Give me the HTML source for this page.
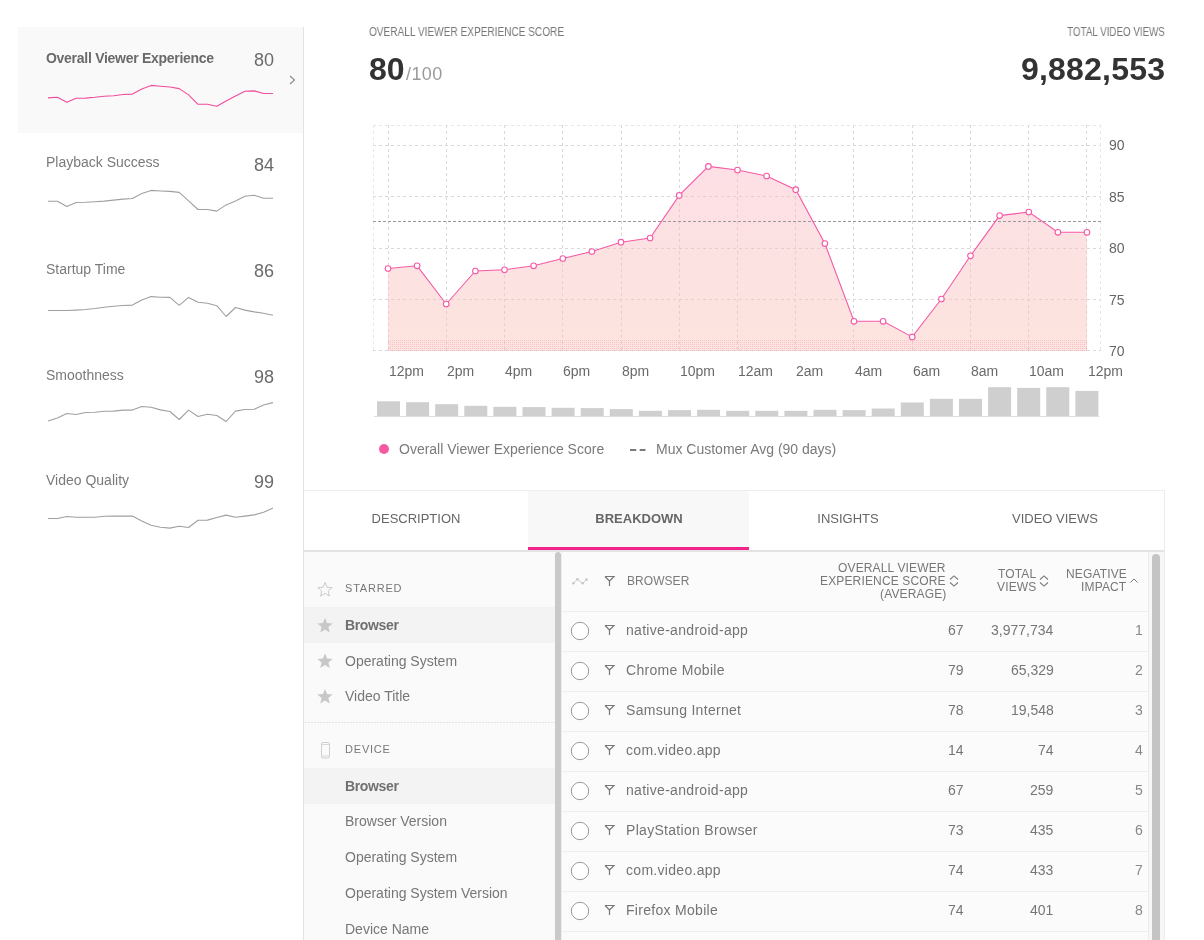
<!DOCTYPE html><html><head><meta charset="utf-8"><style>
html,body{margin:0;padding:0;background:#fff;width:1204px;height:940px;overflow:hidden;position:relative;font-family:"Liberation Sans", sans-serif;}
.t{position:absolute;line-height:1;white-space:nowrap;will-change:transform;}
.abs{position:absolute;}
svg{position:absolute;left:0;top:0;overflow:visible}
</style></head><body>
<div class="abs" style="left:18px;top:27px;width:285px;height:106px;background:#f9f9f9"></div>
<div class="abs" style="left:303px;top:27px;width:1px;height:913px;background:#e3e3e3"></div>
<div class="t" style="left:46.00px;top:51.05px;font-size:14px;color:#6a6a6a;font-weight:bold;letter-spacing:-0.28px">Overall Viewer Experience</div>
<div class="t" style="right:929.50px;top:50.56px;font-size:18px;color:#6a6a6a;font-weight:normal;">80</div>
<div class="t" style="left:46.00px;top:155.45px;font-size:14px;color:#7a7a7a;font-weight:normal;">Playback Success</div>
<div class="t" style="right:929.50px;top:156.26px;font-size:18px;color:#6a6a6a;font-weight:normal;">84</div>
<div class="t" style="left:46.00px;top:261.65px;font-size:14px;color:#7a7a7a;font-weight:normal;">Startup Time</div>
<div class="t" style="right:929.50px;top:262.16px;font-size:18px;color:#6a6a6a;font-weight:normal;">86</div>
<div class="t" style="left:46.00px;top:367.75px;font-size:14px;color:#7a7a7a;font-weight:normal;">Smoothness</div>
<div class="t" style="right:929.50px;top:367.56px;font-size:18px;color:#6a6a6a;font-weight:normal;">98</div>
<div class="t" style="left:46.00px;top:473.15px;font-size:14px;color:#7a7a7a;font-weight:normal;">Video Quality</div>
<div class="t" style="right:929.50px;top:472.96px;font-size:18px;color:#6a6a6a;font-weight:normal;">99</div>
<svg width="1204" height="940" style="pointer-events:none"><polyline points="290,76 294.5,80 290,84" fill="none" stroke="#888" stroke-width="1.1"/><polyline points="48.0,97.9 57.4,97.3 66.8,102.3 76.1,98.3 85.5,98.1 94.9,97.3 104.2,96.3 113.6,95.7 123.0,94.5 132.4,94.1 141.8,89.0 151.1,85.4 160.5,86.2 169.9,87.0 179.2,88.6 188.6,94.9 198.0,104.3 207.4,104.3 216.8,106.3 226.1,100.9 235.5,95.9 244.9,91.3 254.2,90.9 263.6,93.5 273.0,93.5" fill="none" stroke="#f24c9c" stroke-width="1.1" stroke-linejoin="round"/><polyline points="48.0,201.3 57.4,201.3 66.8,206.5 76.1,202.5 85.5,202.3 94.9,201.7 104.2,201.1 113.6,200.1 123.0,199.1 132.4,198.5 141.8,193.6 151.1,190.4 160.5,191.0 169.9,191.4 179.2,192.4 188.6,200.9 198.0,209.5 207.4,209.5 216.8,211.1 226.1,204.9 235.5,200.9 244.9,196.3 254.2,195.3 263.6,198.3 273.0,198.3" fill="none" stroke="#a0a0a0" stroke-width="1.1" stroke-linejoin="round"/><polyline points="48.0,310.5 57.4,310.5 66.8,310.5 76.1,310.1 85.5,309.5 94.9,308.5 104.2,307.3 113.6,306.3 123.0,305.5 132.4,305.1 141.8,300.0 151.1,296.6 160.5,297.2 169.9,297.4 179.2,305.3 188.6,297.4 198.0,302.3 207.4,303.3 216.8,305.7 226.1,316.5 235.5,307.5 244.9,310.1 254.2,311.9 263.6,313.3 273.0,315.3" fill="none" stroke="#a0a0a0" stroke-width="1.1" stroke-linejoin="round"/><polyline points="48.0,420.9 57.4,417.9 66.8,413.5 76.1,414.5 85.5,412.5 94.9,412.3 104.2,411.3 113.6,411.1 123.0,410.1 132.4,410.1 141.8,406.5 151.1,407.3 160.5,409.9 169.9,411.5 179.2,419.5 188.6,410.1 198.0,416.5 207.4,414.3 216.8,415.5 226.1,421.5 235.5,411.1 244.9,409.5 254.2,409.3 263.6,405.0 273.0,402.6" fill="none" stroke="#a0a0a0" stroke-width="1.1" stroke-linejoin="round"/><polyline points="48.0,518.5 57.4,518.5 66.8,516.5 76.1,517.3 85.5,517.3 94.9,517.3 104.2,516.3 113.6,516.1 123.0,516.1 132.4,516.1 141.8,520.9 151.1,525.3 160.5,527.3 169.9,528.1 179.2,526.3 188.6,527.5 198.0,520.3 207.4,520.1 216.8,517.5 226.1,515.1 235.5,517.3 244.9,516.1 254.2,514.9 263.6,512.3 273.0,508.0" fill="none" stroke="#a0a0a0" stroke-width="1.1" stroke-linejoin="round"/></svg>
<div class="t" style="left:369.00px;top:26.04px;font-size:12px;color:#777;font-weight:normal;transform-origin:0 0;transform:scaleX(0.84)">OVERALL VIEWER EXPERIENCE SCORE</div>
<div class="t" style="left:368.50px;top:53.31px;font-size:32px;color:#333;font-weight:bold;">80</div>
<div class="t" style="left:405.50px;top:64.96px;font-size:18px;color:#9a9a9a;font-weight:normal;letter-spacing:0.4px">/100</div>
<div class="t" style="right:39.00px;top:25.74px;font-size:12px;color:#777;font-weight:normal;transform-origin:100% 0;transform:scaleX(0.815)">TOTAL VIDEO VIEWS</div>
<div class="t" style="right:39.00px;top:52.91px;font-size:32px;color:#333;font-weight:bold;letter-spacing:0.2px">9,882,553</div>
<svg width="1204" height="940"><defs><linearGradient id="g" x1="0" y1="166" x2="0" y2="351" gradientUnits="userSpaceOnUse"><stop offset="0" stop-color="rgb(250,186,199)" stop-opacity="0.45"/><stop offset="1" stop-color="rgb(250,195,182)" stop-opacity="0.45"/></linearGradient>
<pattern id="dots" x="0" y="0" width="2" height="2" patternUnits="userSpaceOnUse"><rect x="0" y="0" width="1" height="1" fill="rgba(240,110,160,0.28)"/></pattern></defs><g stroke="#d9d9d9" stroke-width="1" stroke-dasharray="3,3" fill="none"><line x1="388.5" y1="125" x2="388.5" y2="351"/><line x1="446.5" y1="125" x2="446.5" y2="351"/><line x1="504.5" y1="125" x2="504.5" y2="351"/><line x1="562.5" y1="125" x2="562.5" y2="351"/><line x1="621.5" y1="125" x2="621.5" y2="351"/><line x1="679.5" y1="125" x2="679.5" y2="351"/><line x1="737.5" y1="125" x2="737.5" y2="351"/><line x1="795.5" y1="125" x2="795.5" y2="351"/><line x1="853.5" y1="125" x2="853.5" y2="351"/><line x1="912.5" y1="125" x2="912.5" y2="351"/><line x1="970.5" y1="125" x2="970.5" y2="351"/><line x1="1028.5" y1="125" x2="1028.5" y2="351"/><line x1="1086.5" y1="125" x2="1086.5" y2="351"/><line x1="373" y1="145.5" x2="1101" y2="145.5"/><line x1="373" y1="196.5" x2="1101" y2="196.5"/><line x1="373" y1="248.5" x2="1101" y2="248.5"/><line x1="373" y1="299.5" x2="1101" y2="299.5"/><line x1="373" y1="350.5" x2="1101" y2="350.5"/><line x1="373.5" y1="125" x2="373.5" y2="351" stroke="#e6e6e6"/><line x1="1100.5" y1="125" x2="1100.5" y2="351" stroke="#e6e6e6"/><line x1="373" y1="125.5" x2="1101" y2="125.5" stroke="#e6e6e6"/></g><polygon points="388.0,351 388.0,268.5 417.1,265.8 446.2,304.0 475.4,271.0 504.5,269.8 533.6,265.8 562.8,258.5 591.9,251.5 621.0,242.2 650.1,238.0 679.2,195.4 708.4,166.4 737.5,170.0 766.6,176.0 795.8,189.7 824.9,243.6 854.0,321.3 883.1,321.3 912.2,336.9 941.4,299.0 970.5,255.8 999.6,215.6 1028.8,212.0 1057.9,232.3 1087.0,232.3 1087.0,351" fill="url(#g)"/><rect x="388" y="339" width="699" height="12" fill="url(#dots)"/><line x1="373" y1="221.5" x2="1101" y2="221.5" stroke="#9a9a9a" stroke-width="1" stroke-dasharray="3,2"/><polyline points="388.0,268.5 417.1,265.8 446.2,304.0 475.4,271.0 504.5,269.8 533.6,265.8 562.8,258.5 591.9,251.5 621.0,242.2 650.1,238.0 679.2,195.4 708.4,166.4 737.5,170.0 766.6,176.0 795.8,189.7 824.9,243.6 854.0,321.3 883.1,321.3 912.2,336.9 941.4,299.0 970.5,255.8 999.6,215.6 1028.8,212.0 1057.9,232.3 1087.0,232.3" fill="none" stroke="#f55aa6" stroke-width="1.1"/><g fill="#fff" stroke="#f55aa6" stroke-width="1.1"><circle cx="388.0" cy="268.5" r="2.8"/><circle cx="417.1" cy="265.8" r="2.8"/><circle cx="446.2" cy="304.0" r="2.8"/><circle cx="475.4" cy="271.0" r="2.8"/><circle cx="504.5" cy="269.8" r="2.8"/><circle cx="533.6" cy="265.8" r="2.8"/><circle cx="562.8" cy="258.5" r="2.8"/><circle cx="591.9" cy="251.5" r="2.8"/><circle cx="621.0" cy="242.2" r="2.8"/><circle cx="650.1" cy="238.0" r="2.8"/><circle cx="679.2" cy="195.4" r="2.8"/><circle cx="708.4" cy="166.4" r="2.8"/><circle cx="737.5" cy="170.0" r="2.8"/><circle cx="766.6" cy="176.0" r="2.8"/><circle cx="795.8" cy="189.7" r="2.8"/><circle cx="824.9" cy="243.6" r="2.8"/><circle cx="854.0" cy="321.3" r="2.8"/><circle cx="883.1" cy="321.3" r="2.8"/><circle cx="912.2" cy="336.9" r="2.8"/><circle cx="941.4" cy="299.0" r="2.8"/><circle cx="970.5" cy="255.8" r="2.8"/><circle cx="999.6" cy="215.6" r="2.8"/><circle cx="1028.8" cy="212.0" r="2.8"/><circle cx="1057.9" cy="232.3" r="2.8"/><circle cx="1087.0" cy="232.3" r="2.8"/></g><g fill="#cfcfcf"><rect x="377.00" y="401.3" width="23" height="14.7"/><rect x="406.10" y="402.2" width="23" height="13.8"/><rect x="435.20" y="404.2" width="23" height="11.8"/><rect x="464.30" y="405.8" width="23" height="10.2"/><rect x="493.40" y="406.8" width="23" height="9.2"/><rect x="522.50" y="407.1" width="23" height="8.9"/><rect x="551.60" y="407.8" width="23" height="8.2"/><rect x="580.70" y="408.1" width="23" height="7.9"/><rect x="609.80" y="409.1" width="23" height="6.9"/><rect x="638.90" y="410.8" width="23" height="5.2"/><rect x="668.00" y="410.1" width="23" height="5.9"/><rect x="697.10" y="409.8" width="23" height="6.2"/><rect x="726.20" y="410.8" width="23" height="5.2"/><rect x="755.30" y="410.8" width="23" height="5.2"/><rect x="784.40" y="410.8" width="23" height="5.2"/><rect x="813.50" y="409.8" width="23" height="6.2"/><rect x="842.60" y="410.1" width="23" height="5.9"/><rect x="871.70" y="408.5" width="23" height="7.5"/><rect x="900.80" y="402.5" width="23" height="13.5"/><rect x="929.90" y="398.8" width="23" height="17.2"/><rect x="959.00" y="398.8" width="23" height="17.2"/><rect x="988.10" y="387.2" width="23" height="28.8"/><rect x="1017.20" y="387.9" width="23" height="28.1"/><rect x="1046.30" y="387.2" width="23" height="28.8"/><rect x="1075.40" y="390.9" width="23" height="25.1"/></g><rect x="374" y="416" width="725.5" height="1" fill="#dedede"/><circle cx="384" cy="449" r="5" fill="#f75aa3"/><line x1="630" y1="450" x2="645.5" y2="450" stroke="#7a7a7a" stroke-width="2" stroke-dasharray="6.2,3.5"/></svg>
<div class="t" style="left:1108.80px;top:138.35px;font-size:14px;color:#666;font-weight:normal;">90</div>
<div class="t" style="left:1108.80px;top:189.85px;font-size:14px;color:#666;font-weight:normal;">85</div>
<div class="t" style="left:1108.80px;top:241.35px;font-size:14px;color:#666;font-weight:normal;">80</div>
<div class="t" style="left:1108.80px;top:292.85px;font-size:14px;color:#666;font-weight:normal;">75</div>
<div class="t" style="left:1108.80px;top:344.35px;font-size:14px;color:#666;font-weight:normal;">70</div>
<div class="t" style="left:388.50px;top:363.75px;font-size:14px;color:#6a6a6a;font-weight:normal;">12pm</div>
<div class="t" style="left:446.75px;top:363.75px;font-size:14px;color:#6a6a6a;font-weight:normal;">2pm</div>
<div class="t" style="left:505.00px;top:363.75px;font-size:14px;color:#6a6a6a;font-weight:normal;">4pm</div>
<div class="t" style="left:563.25px;top:363.75px;font-size:14px;color:#6a6a6a;font-weight:normal;">6pm</div>
<div class="t" style="left:621.50px;top:363.75px;font-size:14px;color:#6a6a6a;font-weight:normal;">8pm</div>
<div class="t" style="left:679.75px;top:363.75px;font-size:14px;color:#6a6a6a;font-weight:normal;">10pm</div>
<div class="t" style="left:738.00px;top:363.75px;font-size:14px;color:#6a6a6a;font-weight:normal;">12am</div>
<div class="t" style="left:796.25px;top:363.75px;font-size:14px;color:#6a6a6a;font-weight:normal;">2am</div>
<div class="t" style="left:854.50px;top:363.75px;font-size:14px;color:#6a6a6a;font-weight:normal;">4am</div>
<div class="t" style="left:912.75px;top:363.75px;font-size:14px;color:#6a6a6a;font-weight:normal;">6am</div>
<div class="t" style="left:971.00px;top:363.75px;font-size:14px;color:#6a6a6a;font-weight:normal;">8am</div>
<div class="t" style="left:1029.25px;top:363.75px;font-size:14px;color:#6a6a6a;font-weight:normal;">10am</div>
<div class="t" style="left:1087.50px;top:363.75px;font-size:14px;color:#6a6a6a;font-weight:normal;">12pm</div>
<div class="t" style="left:399.00px;top:442.15px;font-size:14px;color:#7a7a7a;font-weight:normal;">Overall Viewer Experience Score</div>
<div class="t" style="left:656.00px;top:442.15px;font-size:14px;color:#7a7a7a;font-weight:normal;">Mux Customer Avg (90 days)</div>
<div class="abs" style="left:304px;top:490px;width:861px;height:1px;background:#eeeeee"></div>
<div class="abs" style="left:1164px;top:490px;width:1px;height:450px;background:#ececec"></div>
<div class="abs" style="left:528px;top:491px;width:221px;height:59px;background:#f8f8f8"></div>
<div class="abs" style="left:304px;top:550px;width:860px;height:2px;background:#e3e3e3"></div>
<div class="abs" style="left:528px;top:547px;width:221px;height:3px;background:#f2238a"></div>
<div class="t" style="left:416.00px;transform:translateX(-50%);top:512.20px;font-size:13px;color:#666;font-weight:normal;">DESCRIPTION</div>
<div class="t" style="left:638.50px;transform:translateX(-50%);top:512.20px;font-size:13px;color:#666;font-weight:bold;">BREAKDOWN</div>
<div class="t" style="left:847.50px;transform:translateX(-50%);top:512.20px;font-size:13px;color:#666;font-weight:normal;">INSIGHTS</div>
<div class="t" style="left:1055.00px;transform:translateX(-50%);top:512.20px;font-size:13px;color:#666;font-weight:normal;">VIDEO VIEWS</div>
<div class="abs" style="left:304px;top:552px;width:251px;height:388px;background:#fafafa"></div>
<div class="abs" style="left:304px;top:607px;width:251px;height:36px;background:#f3f3f3"></div>
<div class="abs" style="left:304px;top:768px;width:251px;height:36px;background:#f3f3f3"></div>
<div class="abs" style="left:305px;top:722px;width:250px;height:1px;background:repeating-linear-gradient(90deg,#e2e2e2 0 2px,transparent 2px 3px)"></div>
<div class="abs" style="left:555px;top:552px;width:6px;height:400px;background:#c9c9c9;border-radius:3px 3px 0 0"></div>
<div class="t" style="left:345.00px;top:583.49px;font-size:11px;color:#777;font-weight:normal;letter-spacing:0.8px">STARRED</div>
<div class="t" style="left:345.00px;top:618.35px;font-size:14px;color:#707070;font-weight:bold;letter-spacing:-0.35px">Browser</div>
<div class="t" style="left:345.00px;top:653.65px;font-size:14px;color:#777;font-weight:normal;">Operating System</div>
<div class="t" style="left:345.00px;top:689.15px;font-size:14px;color:#777;font-weight:normal;">Video Title</div>
<div class="t" style="left:345.00px;top:744.09px;font-size:11px;color:#777;font-weight:normal;letter-spacing:0.8px">DEVICE</div>
<div class="t" style="left:345.00px;top:779.15px;font-size:14px;color:#707070;font-weight:bold;letter-spacing:-0.35px">Browser</div>
<div class="t" style="left:345.00px;top:814.15px;font-size:14px;color:#777;font-weight:normal;">Browser Version</div>
<div class="t" style="left:345.00px;top:850.15px;font-size:14px;color:#777;font-weight:normal;">Operating System</div>
<div class="t" style="left:345.00px;top:886.15px;font-size:14px;color:#777;font-weight:normal;">Operating System Version</div>
<div class="t" style="left:345.00px;top:922.15px;font-size:14px;color:#777;font-weight:normal;">Device Name</div>
<svg width="1204" height="940"><polygon points="325.00,582.50 326.98,587.27 332.13,587.68 328.21,591.04 329.41,596.07 325.00,593.38 320.59,596.07 321.79,591.04 317.87,587.68 323.02,587.27" fill="none" stroke="#c6c6c6" stroke-width="0.9"/><polygon points="325.00,618.00 327.12,623.09 332.61,623.53 328.42,627.11 329.70,632.47 325.00,629.60 320.30,632.47 321.58,627.11 317.39,623.53 322.88,623.09" fill="#c8c8c8" stroke="none" stroke-width="0.9"/><polygon points="325.00,653.50 327.12,658.59 332.61,659.03 328.42,662.61 329.70,667.97 325.00,665.10 320.30,667.97 321.58,662.61 317.39,659.03 322.88,658.59" fill="#c8c8c8" stroke="none" stroke-width="0.9"/><polygon points="325.00,689.00 327.12,694.09 332.61,694.53 328.42,698.11 329.70,703.47 325.00,700.60 320.30,703.47 321.58,698.11 317.39,694.53 322.88,694.09" fill="#c8c8c8" stroke="none" stroke-width="0.9"/><rect x="321.5" y="742.5" width="8" height="15.5" rx="1.5" fill="none" stroke="#cfcfcf" stroke-width="1"/><path d="M322,744.5 h7 M322,756 h7" stroke="#d8d8d8" stroke-width="1"/></svg>
<div class="abs" style="left:561px;top:552px;width:587px;height:388px;background:#fbfbfb;border-left:1px solid #eeeeee"></div>
<div class="abs" style="left:1148px;top:552px;width:15px;height:388px;background:#f7f7f7;border-left:1px solid #ececec;border-right:1px solid #ececec"></div>
<div class="abs" style="left:1152px;top:554px;width:8px;height:400px;background:#c4c4c4;border-radius:4px 4px 0 0"></div>
<div class="abs" style="left:562px;top:611px;width:586px;height:1px;background:#efefef"></div>
<div class="abs" style="left:562px;top:651px;width:586px;height:1px;background:#efefef"></div>
<div class="abs" style="left:562px;top:691px;width:586px;height:1px;background:#efefef"></div>
<div class="abs" style="left:562px;top:731px;width:586px;height:1px;background:#efefef"></div>
<div class="abs" style="left:562px;top:771px;width:586px;height:1px;background:#efefef"></div>
<div class="abs" style="left:562px;top:811px;width:586px;height:1px;background:#efefef"></div>
<div class="abs" style="left:562px;top:851px;width:586px;height:1px;background:#efefef"></div>
<div class="abs" style="left:562px;top:891px;width:586px;height:1px;background:#efefef"></div>
<div class="abs" style="left:562px;top:931px;width:586px;height:1px;background:#efefef"></div>
<div class="t" style="left:627.00px;top:574.84px;font-size:12px;color:#7a7a7a;font-weight:normal;letter-spacing:0.05px">BROWSER</div>
<div class="t" style="right:258.00px;top:562.14px;font-size:12px;color:#777;font-weight:normal;letter-spacing:0.15px">OVERALL VIEWER</div>
<div class="t" style="right:258.00px;top:575.14px;font-size:12px;color:#777;font-weight:normal;letter-spacing:0.15px">EXPERIENCE SCORE</div>
<div class="t" style="right:258.00px;top:588.14px;font-size:12px;color:#777;font-weight:normal;letter-spacing:0.15px">(AVERAGE)</div>
<div class="t" style="right:167.50px;top:568.24px;font-size:12px;color:#777;font-weight:normal;letter-spacing:0.15px">TOTAL</div>
<div class="t" style="right:167.50px;top:581.44px;font-size:12px;color:#777;font-weight:normal;letter-spacing:0.15px">VIEWS</div>
<div class="t" style="right:77.50px;top:568.24px;font-size:12px;color:#777;font-weight:normal;letter-spacing:0.15px">NEGATIVE</div>
<div class="t" style="right:77.50px;top:581.44px;font-size:12px;color:#777;font-weight:normal;letter-spacing:0.15px">IMPACT</div>
<div class="t" style="left:626.20px;top:623.45px;font-size:14px;color:#747474;font-weight:normal;letter-spacing:0.3px">native-android-app</div>
<div class="t" style="right:240.50px;top:623.45px;font-size:14px;color:#767676;font-weight:normal;">67</div>
<div class="t" style="right:150.50px;top:623.45px;font-size:14px;color:#767676;font-weight:normal;">3,977,734</div>
<div class="t" style="right:61.00px;top:623.45px;font-size:14px;color:#888;font-weight:normal;">1</div>
<div class="t" style="left:626.20px;top:663.45px;font-size:14px;color:#747474;font-weight:normal;letter-spacing:0.3px">Chrome Mobile</div>
<div class="t" style="right:240.50px;top:663.45px;font-size:14px;color:#767676;font-weight:normal;">79</div>
<div class="t" style="right:150.50px;top:663.45px;font-size:14px;color:#767676;font-weight:normal;">65,329</div>
<div class="t" style="right:61.00px;top:663.45px;font-size:14px;color:#888;font-weight:normal;">2</div>
<div class="t" style="left:626.20px;top:703.45px;font-size:14px;color:#747474;font-weight:normal;letter-spacing:0.3px">Samsung Internet</div>
<div class="t" style="right:240.50px;top:703.45px;font-size:14px;color:#767676;font-weight:normal;">78</div>
<div class="t" style="right:150.50px;top:703.45px;font-size:14px;color:#767676;font-weight:normal;">19,548</div>
<div class="t" style="right:61.00px;top:703.45px;font-size:14px;color:#888;font-weight:normal;">3</div>
<div class="t" style="left:626.20px;top:743.45px;font-size:14px;color:#747474;font-weight:normal;letter-spacing:0.3px">com.video.app</div>
<div class="t" style="right:240.50px;top:743.45px;font-size:14px;color:#767676;font-weight:normal;">14</div>
<div class="t" style="right:150.50px;top:743.45px;font-size:14px;color:#767676;font-weight:normal;">74</div>
<div class="t" style="right:61.00px;top:743.45px;font-size:14px;color:#888;font-weight:normal;">4</div>
<div class="t" style="left:626.20px;top:783.45px;font-size:14px;color:#747474;font-weight:normal;letter-spacing:0.3px">native-android-app</div>
<div class="t" style="right:240.50px;top:783.45px;font-size:14px;color:#767676;font-weight:normal;">67</div>
<div class="t" style="right:150.50px;top:783.45px;font-size:14px;color:#767676;font-weight:normal;">259</div>
<div class="t" style="right:61.00px;top:783.45px;font-size:14px;color:#888;font-weight:normal;">5</div>
<div class="t" style="left:626.20px;top:823.45px;font-size:14px;color:#747474;font-weight:normal;letter-spacing:0.3px">PlayStation Browser</div>
<div class="t" style="right:240.50px;top:823.45px;font-size:14px;color:#767676;font-weight:normal;">73</div>
<div class="t" style="right:150.50px;top:823.45px;font-size:14px;color:#767676;font-weight:normal;">435</div>
<div class="t" style="right:61.00px;top:823.45px;font-size:14px;color:#888;font-weight:normal;">6</div>
<div class="t" style="left:626.20px;top:863.45px;font-size:14px;color:#747474;font-weight:normal;letter-spacing:0.3px">com.video.app</div>
<div class="t" style="right:240.50px;top:863.45px;font-size:14px;color:#767676;font-weight:normal;">74</div>
<div class="t" style="right:150.50px;top:863.45px;font-size:14px;color:#767676;font-weight:normal;">433</div>
<div class="t" style="right:61.00px;top:863.45px;font-size:14px;color:#888;font-weight:normal;">7</div>
<div class="t" style="left:626.20px;top:903.45px;font-size:14px;color:#747474;font-weight:normal;letter-spacing:0.3px">Firefox Mobile</div>
<div class="t" style="right:240.50px;top:903.45px;font-size:14px;color:#767676;font-weight:normal;">74</div>
<div class="t" style="right:150.50px;top:903.45px;font-size:14px;color:#767676;font-weight:normal;">401</div>
<div class="t" style="right:61.00px;top:903.45px;font-size:14px;color:#888;font-weight:normal;">8</div>
<svg width="1204" height="940"><polyline points="573.3,583.3 577.4,579.3 582.6,583.3 586.5,579.6" fill="none" stroke="#c8c8c8" stroke-width="1"/><circle cx="573.3" cy="583.3" r="1.3" fill="#c8c8c8"/><circle cx="577.4" cy="579.3" r="1.3" fill="#c8c8c8"/><circle cx="582.6" cy="583.3" r="1.3" fill="#c8c8c8"/><circle cx="586.5" cy="579.6" r="1.3" fill="#c8c8c8"/><path d="M605,576.5 h9 l-4.5,4.5 v5 M605,576.5 l4.5,4.5" fill="none" stroke="#777" stroke-width="1.2"/><circle cx="580" cy="631" r="8.7" fill="#fff" stroke="#999" stroke-width="1"/><path d="M605,625.5 h9 l-4.5,4.5 v5 M605,625.5 l4.5,4.5" fill="none" stroke="#777" stroke-width="1.2"/><circle cx="580" cy="671" r="8.7" fill="#fff" stroke="#999" stroke-width="1"/><path d="M605,665.5 h9 l-4.5,4.5 v5 M605,665.5 l4.5,4.5" fill="none" stroke="#777" stroke-width="1.2"/><circle cx="580" cy="711" r="8.7" fill="#fff" stroke="#999" stroke-width="1"/><path d="M605,705.5 h9 l-4.5,4.5 v5 M605,705.5 l4.5,4.5" fill="none" stroke="#777" stroke-width="1.2"/><circle cx="580" cy="751" r="8.7" fill="#fff" stroke="#999" stroke-width="1"/><path d="M605,745.5 h9 l-4.5,4.5 v5 M605,745.5 l4.5,4.5" fill="none" stroke="#777" stroke-width="1.2"/><circle cx="580" cy="791" r="8.7" fill="#fff" stroke="#999" stroke-width="1"/><path d="M605,785.5 h9 l-4.5,4.5 v5 M605,785.5 l4.5,4.5" fill="none" stroke="#777" stroke-width="1.2"/><circle cx="580" cy="831" r="8.7" fill="#fff" stroke="#999" stroke-width="1"/><path d="M605,825.5 h9 l-4.5,4.5 v5 M605,825.5 l4.5,4.5" fill="none" stroke="#777" stroke-width="1.2"/><circle cx="580" cy="871" r="8.7" fill="#fff" stroke="#999" stroke-width="1"/><path d="M605,865.5 h9 l-4.5,4.5 v5 M605,865.5 l4.5,4.5" fill="none" stroke="#777" stroke-width="1.2"/><circle cx="580" cy="911" r="8.7" fill="#fff" stroke="#999" stroke-width="1"/><path d="M605,905.5 h9 l-4.5,4.5 v5 M605,905.5 l4.5,4.5" fill="none" stroke="#777" stroke-width="1.2"/><path d="M950,579.5 l4,-3.6 l4,3.6 M950,582.5 l4,3.6 l4,-3.6" fill="none" stroke="#7a7a7a" stroke-width="1.1"/><path d="M1040,579.5 l4,-3.6 l4,3.6 M1040,582.5 l4,3.6 l4,-3.6" fill="none" stroke="#7a7a7a" stroke-width="1.1"/><path d="M1130.5,582.5 l3.5,-3.5 l3.5,3.5" fill="none" stroke="#777" stroke-width="1"/></svg>
</body></html>
